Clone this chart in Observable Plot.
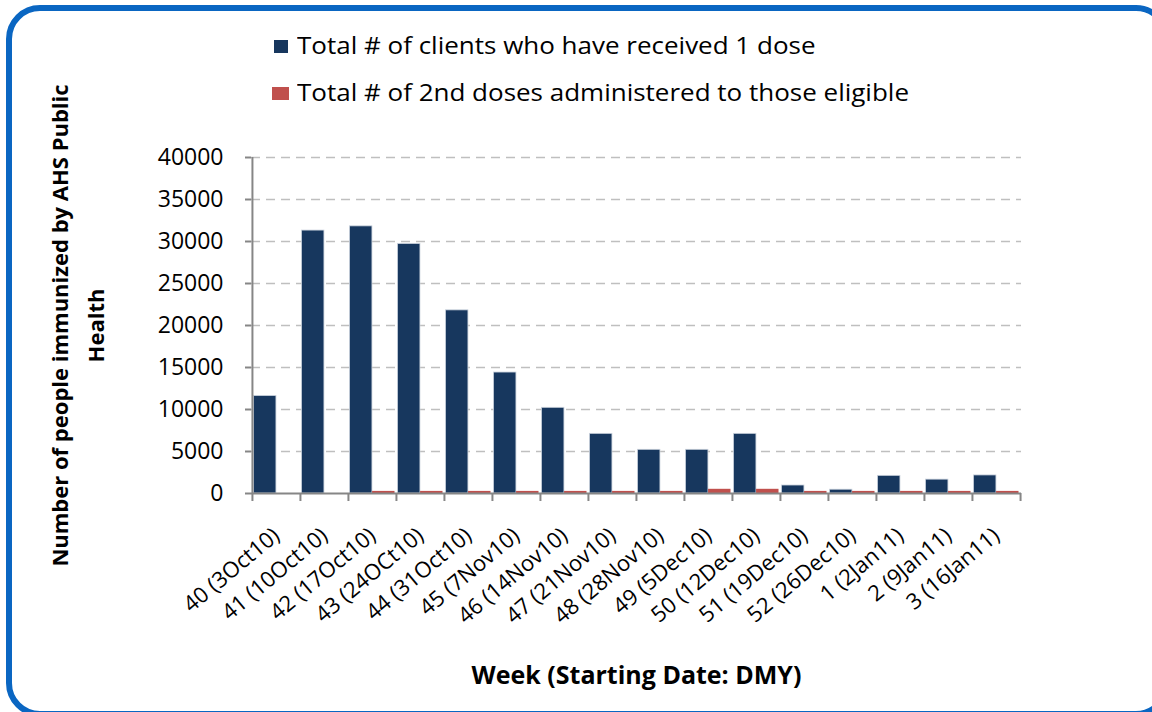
<!DOCTYPE html>
<html>
<head>
<meta charset="utf-8">
<script src="https://cdn.jsdelivr.net/npm/d3@7"></script>
<script src="https://cdn.jsdelivr.net/npm/@observablehq/plot@0.6"></script>
<style>
  html, body { margin: 0; padding: 0; background: #fff; }
  #wrap { position: relative; width: 1152px; height: 712px; overflow: hidden; font-family: "Open Sans", Lato, sans-serif; }
  #border { position: absolute; left: 6px; top: 5px; width: 1164px; height: 712px; border: 6px solid #0A66C2; border-radius: 34px; box-sizing: border-box; pointer-events: none; }
  #chart { position: absolute; left: 0; top: 0; }
  .leg { position: absolute; left: 297px; font-size: 23px; color: #000; white-space: nowrap; line-height: 1; transform: scaleX(1.13); transform-origin: left center; }
  .sw { position: absolute; }
</style>
</head>
<body>
<div id="wrap">
  <div id="chart"></div>
  <div class="sw" style="left:274px;top:40px;width:14px;height:13px;background:#17375E"></div>
  <div class="leg" id="leg1" style="top:34px">Total # of clients who have received 1 dose</div>
  <div class="sw" style="left:272px;top:87px;width:17px;height:13px;background:#C0504D"></div>
  <div class="leg" id="leg2" style="top:81px">Total # of 2nd doses administered to those eligible</div>
  <div id="border"></div>
</div>
<script>
const weeks = ["40 (3Oct10)", "41 (10Oct10)", "42 (17Oct10)", "43 (24OCt10)", "44 (31Oct10)", "45 (7Nov10)", "46 (14Nov10)", "47 (21Nov10)", "48 (28Nov10)", "49 (5Dec10)", "50 (12Dec10)", "51 (19Dec10)", "52 (26Dec10)", "1 (2Jan11)", "2 (9Jan11)", "3 (16Jan11)"];
const firstDose = [11600, 31300, 31800, 29700, 21800, 14400, 10200, 7100, 5200, 5200, 7100, 950, 450, 2100, 1650, 2150];
const secondDose = [0, 0, 250, 250, 250, 250, 250, 250, 250, 500, 500, 250, 250, 250, 250, 250];
const yTicks = [0, 5000, 10000, 15000, 20000, 25000, 30000, 35000, 40000];
const seriesNames = ["Total # of clients who have received 1 dose", "Total # of 2nd doses administered to those eligible"];
const yTitle = "Number of people immunized by AHS Public\nHealth";
const xTitle = "Week (Starting Date: DMY)";

const blue = weeks.map((w, i) => ({week: w, value: firstDose[i]}));
const red = weeks.map((w, i) => ({week: w, value: secondDose[i]}));

const W = 1152, H = 712;
const mL = 251, mR = 131, mT = 157, mB = 219;
const bw = (W - mL - mR) / weeks.length;
const axisColor = "#868686";
const font = "'Open Sans', Lato, sans-serif";

const chart = Plot.plot({
  width: W,
  height: H,
  marginLeft: mL,
  marginRight: mR,
  marginTop: mT,
  marginBottom: mB,
  style: {fontFamily: font, color: "#000", background: "transparent"},
  x: {type: "band", domain: weeks, padding: 0, axis: null, label: null},
  y: {domain: [0, 40000], axis: null, label: null},
  marks: [
    Plot.gridY(yTicks.slice(1), {stroke: "#BFBFBF", strokeOpacity: 1, strokeWidth: 1.5, strokeDasharray: "9,6"}),
    Plot.barY(blue, {x: "week", y: "value", fill: "#17375E", stroke: "#C9D1DC", strokeWidth: 0.8, insetLeft: 1.5, insetRight: bw / 2}),
    Plot.barY(red, {x: "week", y: "value", fill: "#C0504D", insetLeft: bw / 2, insetRight: 1.5}),
    Plot.axisY({ticks: yTicks, tickSize: 6, tickPadding: 22, fontSize: 23, tickFormat: "d", label: null, stroke: axisColor, strokeWidth: 2, color: "#000"}),
    Plot.ruleX([weeks[0]], {dx: -bw / 2, y1: 0, y2: 40000, stroke: axisColor, strokeWidth: 2}),
    Plot.ruleY([0], {stroke: axisColor, strokeWidth: 2}),
    Plot.axisX({ticks: weeks, tickSize: 8, tickFormat: () => "", label: null, dx: -bw / 2, stroke: axisColor, strokeWidth: 2}),
    Plot.axisX({ticks: [weeks[weeks.length - 1]], tickSize: 8, tickFormat: () => "", label: null, dx: bw / 2, stroke: axisColor, strokeWidth: 2}),
    Plot.axisX({ticks: weeks, tickSize: 0, tickPadding: 39, tickRotate: -40, fontSize: 22, label: null, color: "#000"}),
    Plot.text([yTitle], {frameAnchor: "left", dx: -177, rotate: -90, textAnchor: "middle", lineAnchor: "middle", fontSize: 22, fontWeight: "bold", lineHeight: 1.65, fill: "#000"}),
    Plot.text([xTitle], {frameAnchor: "bottom", dy: 182, textAnchor: "middle", lineAnchor: "middle", fontSize: 25, fontWeight: "bold", fill: "#000"})
  ]
});
document.getElementById("chart").appendChild(chart);
</script>
</body>
</html>
